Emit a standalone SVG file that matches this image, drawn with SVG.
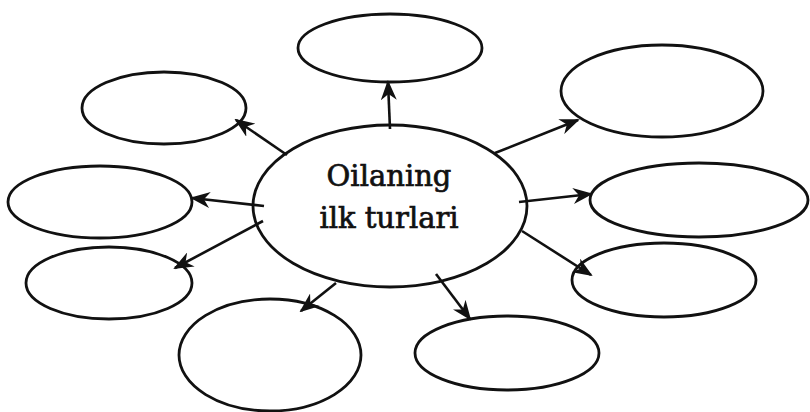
<svg xmlns="http://www.w3.org/2000/svg" width="810" height="412" viewBox="0 0 810 412">
<defs>
<marker id="ah" viewBox="0 0 20 16" refX="18" refY="8" markerWidth="20" markerHeight="16" markerUnits="userSpaceOnUse" orient="auto">
<path d="M0,0 L20,8 L0,16 L6,8 Z" fill="#111"/>
</marker>
<style>
.n{fill:#fff;stroke:#111;stroke-width:2.8}
.c{stroke:#111;stroke-width:2.6;fill:none;marker-end:url(#ah)}
.t{font-family:"DejaVu Serif","Liberation Serif",serif;font-size:29px;fill:#111;stroke:#111;stroke-width:0.7;text-anchor:middle}
</style>
</defs>
<rect width="810" height="412" fill="#fff"/>
<g id="center">
<ellipse class="n" cx="390" cy="206" rx="137" ry="81"/>
<text class="t" x="389" y="186">Oilaning</text>
<text class="t" x="389" y="228">ilk turlari</text>
</g>
<g id="top"><ellipse class="n" cx="390" cy="48" rx="92" ry="34"/></g>
<g id="top-left"><ellipse class="n" cx="164" cy="108" rx="82" ry="36"/></g>
<g id="left"><ellipse class="n" cx="100" cy="202" rx="92" ry="36"/></g>
<g id="lower-left"><ellipse class="n" cx="109" cy="283" rx="83" ry="36"/></g>
<g id="bottom-left"><ellipse class="n" cx="270" cy="355" rx="91" ry="56"/></g>
<g id="bottom-right"><ellipse class="n" cx="507" cy="353" rx="92" ry="37"/></g>
<g id="lower-right"><ellipse class="n" cx="664" cy="280" rx="92" ry="37"/></g>
<g id="right"><ellipse class="n" cx="699" cy="200" rx="109" ry="37"/></g>
<g id="top-right"><ellipse class="n" cx="662" cy="91" rx="101" ry="46"/></g>
<g id="connectors">
<line class="c" x1="390" y1="129" x2="388" y2="82"/>
<line class="c" x1="287" y1="155" x2="236" y2="120"/>
<line class="c" x1="264" y1="206" x2="192" y2="198"/>
<line class="c" x1="263" y1="221" x2="175" y2="268"/>
<line class="c" x1="495" y1="153" x2="578" y2="120"/>
<line class="c" x1="519" y1="202" x2="591" y2="194"/>
<line class="c" x1="522" y1="231" x2="591" y2="275"/>
<line class="c" x1="336" y1="283" x2="301" y2="311"/>
<line class="c" x1="436" y1="274" x2="470" y2="319"/>
</g>
</svg>
